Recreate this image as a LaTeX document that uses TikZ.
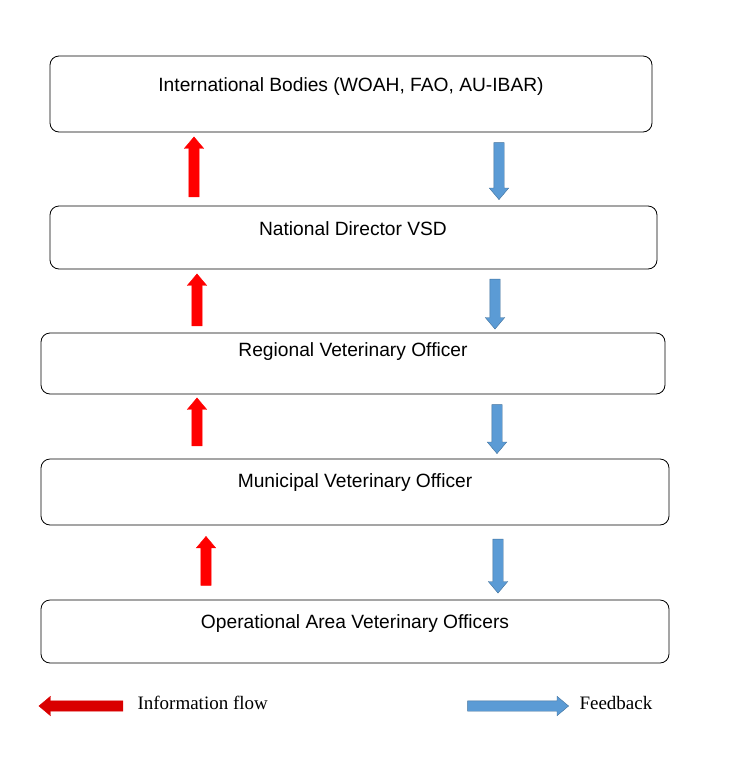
\documentclass[tikz,border=0pt]{standalone}
\usepackage{fontspec}
\setmainfont{Liberation Sans}
\newfontfamily\legfont{Liberation Serif}
\usetikzlibrary{shapes.arrows}
\definecolor{fb}{HTML}{5B9BD5}
\definecolor{fbd}{HTML}{41719C}
\begin{document}
\begin{tikzpicture}[x=1pt,y=-1pt,
  box/.style={draw=black,thick,rounded corners=9pt},
  lbl/.style={font=\fontsize{19.2}{22}\selectfont},
  blk/.style={single arrow,inner sep=5pt,single arrow head extend=4.5pt,single arrow tip angle=80,anchor=center},
  up/.style={blk,fill=red,draw=red,rotate=90},
  down/.style={blk,fill=fb,draw=fbd,rotate=-90},
  leg/.style={font=\legfont\fontsize{19}{22}\selectfont,anchor=west}]
\useasboundingbox (0,0) rectangle (746,761);
\draw[box] (50,56) rectangle (652,132);
\node[lbl] (b1) at (351,87) {International Bodies (WOAH, FAO, AU-IBAR)};
\draw[box] (50,206) rectangle (657,269);
\node[lbl] (b2) at (353,229) {National Director VSD};
\draw[box] (41,333) rectangle (665,394);
\node[lbl] (b3) at (353,352) {Regional Veterinary Officer};
\draw[box] (41,459) rectangle (669,525);
\node[lbl] (b4) at (355,483) {Municipal Veterinary Officer};
\draw[box] (41,600) rectangle (669,663);
\node[lbl] (b5) at (355,624) {Operational Area Veterinary Officers};
\node[up,minimum height=60pt] (u1) at (194,170) {};
\node[up,minimum height=52pt] (u2) at (197,303) {};
\node[up,minimum height=48pt] (u3) at (197,425) {};
\node[up,minimum height=49pt] (u4) at (206,564) {};
\node[down,minimum height=57pt] (d1) at (499,168) {};
\node[down,minimum height=50pt] (d2) at (495,301) {};
\node[down,minimum height=49pt] (d3) at (497,426) {};
\node[down,minimum height=54pt] (d4) at (498,563) {};
\node[blk,fill=red!85!black,draw=red!85!black,rotate=180,minimum height=84pt] (lr) at (84,706) {};
\node[leg] (lt1) at (134,703) {Information flow};
\node[blk,fill=fb,draw=fbd,minimum height=101pt] (lb) at (515,706) {};
\node[leg] (lt2) at (576,703) {Feedback};
\end{tikzpicture}
\end{document}
